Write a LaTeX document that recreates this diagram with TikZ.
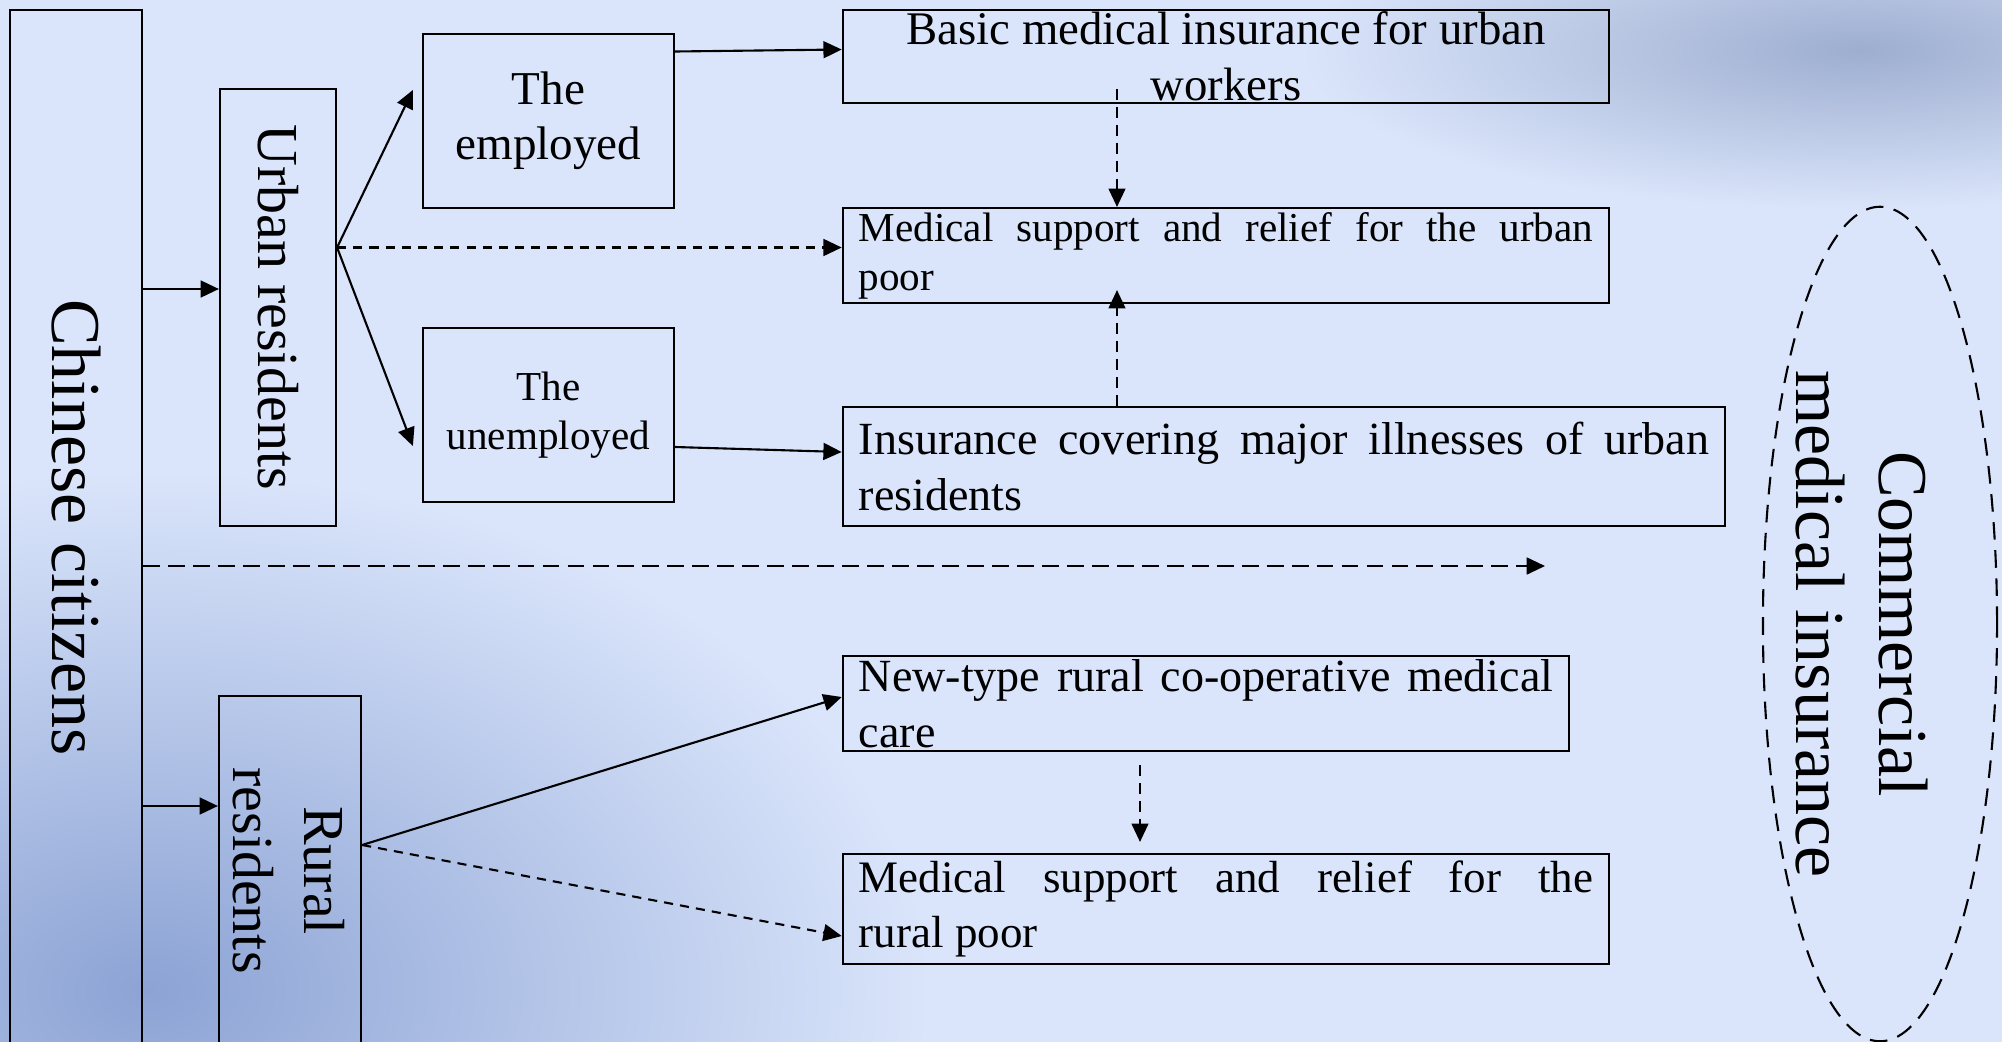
\documentclass[tikz,border=0pt]{standalone}
\usepackage{fontspec}
\setmainfont{Liberation Serif}
\usetikzlibrary{arrows.meta,shapes.geometric}
\definecolor{bgblue}{HTML}{DAE5FB}
\definecolor{hazeblue}{HTML}{8CA3D4}
\definecolor{hazegrey}{HTML}{9EAED0}

\begin{document}
\begin{tikzpicture}[
  x=0.01cm, y=-0.01cm,
  box/.style={draw, line width=0.6pt, inner sep=0pt, align=center},
  para/.style={box, inner xsep=1.6mm, align=justify, execute at begin node={\tolerance=9999\hbadness=10000\hyphenpenalty=10000}},
  arr/.style={-{Triangle[length=5.2pt, width=4.8pt]}, line width=0.6pt},
  darr/.style={arr, dash pattern=on 2.6pt off 2pt},
  varr/.style={arr, line width=0.45pt, dash pattern=on 3.1pt off 2pt},
  ldarr/.style={arr, dash pattern=on 4.8pt off 2.3pt},
]
  \useasboundingbox (0,0) rectangle (2002,1042);

  % backdrop
  \begin{scope}
    \clip (0,0) rectangle (2002,1042);
    \fill[bgblue] (0,0) rectangle (2002,1042);
    \shade[inner color=hazeblue, outer color=bgblue] (150,990) ellipse [x radius=780, y radius=520];
    \shade[inner color=hazegrey, outer color=bgblue] (1860,50) ellipse [x radius=560, y radius=160];
  \end{scope}

  % Population column
  \node[box, minimum width=1.32cm, minimum height=10.35cm, font=\fontsize{19.9pt}{24pt}\selectfont] (cit) at (76,527.5) {\rotatebox{-90}{Chinese citizens}};
  \node[box, minimum width=1.16cm, minimum height=4.37cm, font=\fontsize{16.5pt}{20pt}\selectfont] (urb) at (278,307.5) {\rotatebox{-90}{Urban residents}};
  \node[box, minimum width=1.42cm, minimum height=3.49cm, font=\fontsize{16.5pt}{20pt}\selectfont] (rur) at (290,870.5) {\makebox[0pt]{\rotatebox{-90}{\begin{tabular}{@{}c@{}}Rural\\residents\end{tabular}}\hspace{1.4mm}}};

  % Employment status
  \node[box, minimum width=2.51cm, minimum height=1.74cm, font=\fontsize{13.4pt}{15.6pt}\selectfont] (emp) at (548.5,121) {The\\employed};
  \node[box, minimum width=2.51cm, minimum height=1.74cm, font=\fontsize{11.7pt}{13.9pt}\selectfont] (unemp) at (548.5,415) {The\\unemployed};

  % Schemes
  \node[box, minimum width=7.66cm, minimum height=0.93cm, font=\fontsize{13.3pt}{15.9pt}\selectfont] (basic) at (1226,56.5) {Basic medical insurance for urban\\workers};
  \node[para, text width=7.34cm, minimum height=0.95cm, font=\fontsize{11.7pt}{13.9pt}\selectfont] (urbpoor) at (1226,255.5) {Medical support and relief for the urban\linebreak poor};
  \node[para, text width=8.50cm, minimum height=1.19cm, font=\fontsize{13.1pt}{15.9pt}\selectfont] (major) at (1284,466.5) {Insurance covering major illnesses of urban\linebreak residents};
  \node[para, text width=6.94cm, minimum height=0.95cm, font=\fontsize{13.1pt}{15.9pt}\selectfont] (ncms) at (1206,703.5) {New-type rural co-operative medical\linebreak care};
  \node[para, text width=7.34cm, minimum height=1.10cm, font=\fontsize{12.8pt}{15.6pt}\selectfont] (rurpoor) at (1226,909) {Medical support and relief for the\linebreak rural poor};

  % Commercial insurance
  \node[draw, ellipse, line width=0.6pt, dash pattern=on 5pt off 3pt, inner sep=0pt, minimum width=2.34cm, minimum height=8.34cm, font=\fontsize{19.9pt}{23.6pt}\selectfont] (comm) at (1880,624) {\makebox[0pt]{\rotatebox{-90}{\begin{tabular}{@{}c@{}}Commercial\\medical insurance\end{tabular}}\hspace{5mm}}};

  % Arrow ends
  \coordinate (urbin) at ([shift={(0,-18.5)}]urb.west);
  \coordinate (rurin) at ([shift={(0,-64.5)}]rur.west);
  \coordinate (urbout) at ([shift={(0,-60)}]urb.east);
  \coordinate (rurout) at ([shift={(0,-25.5)}]rur.east);
  \coordinate (commin) at (1545,566);

  % Edges
  \draw[arr] (urbin -| cit.east) -- (urbin);
  \draw[arr] (rurin -| cit.east) -- (rurin);
  \draw[arr] (urbout) -- ([shift={(-9,-31)}]emp.west);
  \draw[arr] (urbout) -- ([shift={(-9,31)}]unemp.west);
  \draw[darr] (urbout) -- (urbout -| urbpoor.west);
  \draw[arr] ([shift={(0,-69.5)}]emp.east) -- ([shift={(0,-7)}]basic.west);
  \draw[arr] ([shift={(0,32)}]unemp.east) -- ([shift={(0,-14.5)}]major.west);
  \draw[varr] ([shift={(-109,-15)}]basic.south) -- ([shift={(-109,0)}]urbpoor.north);
  \draw[varr] ([shift={(-167,0)}]major.north) -- ([shift={(-109,-14)}]urbpoor.south);
  \draw[ldarr] ([shift={(0,38.5)}]cit.east) -- (commin);
  \draw[arr] (rurout) -- ([shift={(0,-6.5)}]ncms.west);
  \draw[darr] (rurout) -- ([shift={(0,27)}]rurpoor.west);
  \draw[varr] ([shift={(-66,13)}]ncms.south) -- ([shift={(-86,-11)}]rurpoor.north);
\end{tikzpicture}
\end{document}
